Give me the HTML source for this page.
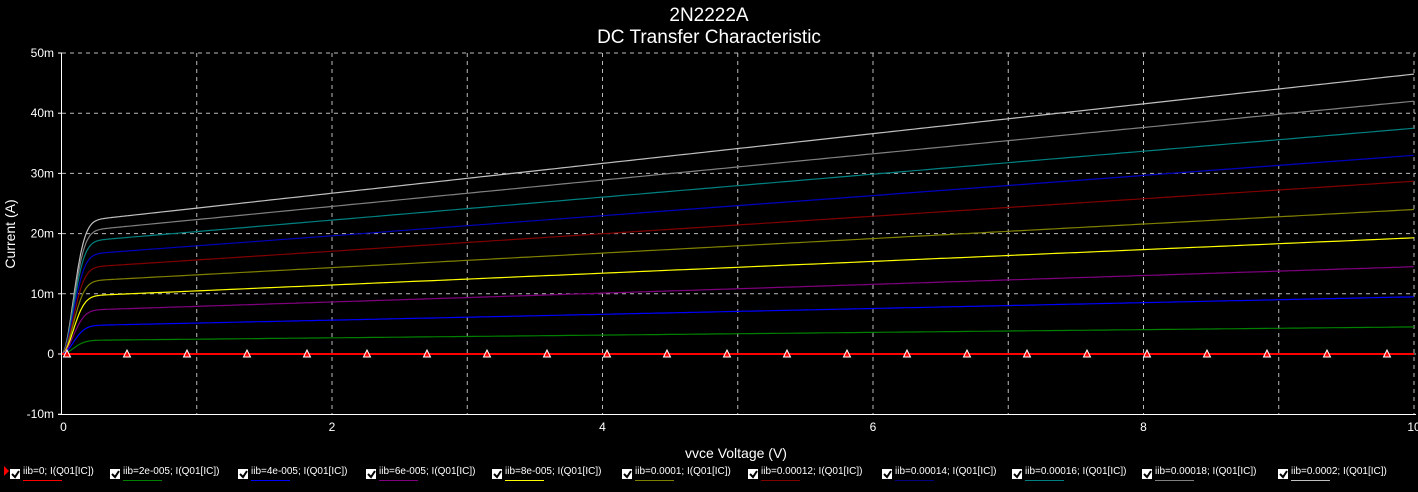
<!DOCTYPE html>
<html><head><meta charset="utf-8"><style>
html,body{margin:0;padding:0;background:#000;}
svg{display:block;font-family:"Liberation Sans",sans-serif;}
</style></head><body>
<svg id="s" width="1418" height="492" xmlns="http://www.w3.org/2000/svg">
<rect width="1418" height="492" fill="#000"/>
<text x="709" y="21" fill="#fff" font-size="19" text-anchor="middle">2N2222A</text>
<text x="709" y="43" fill="#fff" font-size="19" text-anchor="middle">DC Transfer Characteristic</text>
<g id="grid" stroke="#bbb" stroke-dasharray="4,4" stroke-width="1"></g>
<g id="curves" fill="none" stroke-width="1.2"></g>
<g id="marks"></g>
<line x1="61.5" y1="53" x2="61.5" y2="414" stroke="#fff"/>
<line x1="58" y1="414.5" x2="1416" y2="414.5" stroke="#fff"/>
<g id="labels" fill="#fff" font-size="12"></g>
<text x="736" y="458" fill="#fff" font-size="14" text-anchor="middle">vvce Voltage (V)</text>
<text transform="translate(15,234) rotate(-90)" fill="#fff" font-size="14" text-anchor="middle">Current (A)</text>
<g id="legend" font-size="10" fill="#fff"></g>
<polygon points="4,466 9,471 4,476" fill="#f00"/>
</svg>
<script>
var NS="http://www.w3.org/2000/svg";
function el(p,t,a,txt){var e=document.createElementNS(NS,t);for(var k in a)e.setAttribute(k,a[k]);if(txt)e.textContent=txt;document.getElementById(p).appendChild(e);return e;}
function X(v){return 61.5+v*135.25;}
function Y(m){return 354-m*6.02;}
var i;
for(i=1;i<=10;i++)el("grid","line",{x1:X(i),y1:53,x2:X(i),y2:414});
var yt=[50,40,30,20,10,0,-10];
yt.forEach(function(m){if(m!==-10)el("grid","line",{x1:62,y1:Y(m),x2:1416,y2:Y(m)});
el("labels","text",{x:54,y:Y(m)+4,"text-anchor":"end"},m===0?"0":m+"m");
el("labels","line",{x1:58,y1:Y(m),x2:62,y2:Y(m),stroke:"#fff"});});
for(i=0;i<=10;i+=2)el("labels","text",{x:X(i)+(i==0?2:0),y:431,"text-anchor":"middle"},""+i);
var series=[
["#ff0000",0,0],["#008000",2.3,4.5],["#0000ff",4.8,9.5],["#800080",7.4,14.5],["#ffff00",9.8,19.3],
["#808000",12.3,24],["#800000",14.6,28.7],["#000080",16.8,33],["#008080",19,37.5],["#808080",20.8,42],["#c0c0c0",22.5,46.5]];
for(i=series.length-1;i>=0;i--){var s=series[i];var b=(s[2]-s[1])/9.7,a=s[1]-b*0.3;var pts=[];
for(var v=0;v<=10.001;v+=(v<0.5?0.005:0.05)){var I=(a+b*v)*(1-Math.exp(-Math.pow(v/0.12,2)));pts.push(X(v).toFixed(1)+","+Y(I).toFixed(1));}
var col=s[0];if(col=="#000080")col="#0000c0";
el("curves","polyline",{points:pts.join(" "),stroke:col,"stroke-width":i==0?2:1.2});}
for(var x=67;x<=1390;x+=60)el("marks","polygon",{points:(x-3.5)+",357 "+x+",350 "+(x+3.5)+",357",fill:"#f00",stroke:"#fff","stroke-width":1});
var names=["0","2e-005","4e-005","6e-005","8e-005","0.0001","0.00012","0.00014","0.00016","0.00018","0.0002"];
var lx=[10,110,238,366,492,622,748,882,1012,1142,1278];
for(i=0;i<11;i++){var x0=lx[i];
el("legend","rect",{x:x0,y:469,width:10,height:10,fill:"#fff"});
el("legend","path",{d:"M"+(x0+2)+",474 l3,3 l4,-6",stroke:"#000","stroke-width":2,fill:"none"});
el("legend","text",{x:x0+13,y:474},"iib="+names[i]+"; I(Q01[IC])");
el("legend","line",{x1:x0+13,y1:480.5,x2:x0+52,y2:480.5,stroke:series[i][0],"stroke-width":1});}
</script>
</body></html>
